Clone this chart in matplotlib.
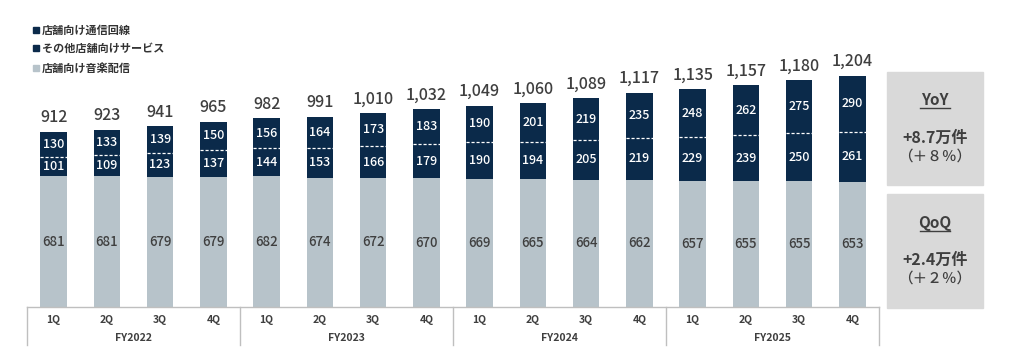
import matplotlib
matplotlib.use("Agg")
import matplotlib.pyplot as plt
from matplotlib.patches import Rectangle
from matplotlib.lines import Line2D

# ---- data ----
quarters = ["1Q", "2Q", "3Q", "4Q"] * 4
fiscal_years = ["FY2022", "FY2023", "FY2024", "FY2025"]
series_names = ["店舗向け通信回線", "その他店舗向けサービス", "店舗向け音楽配信"]
music = [681, 681, 679, 679, 682, 674, 672, 670, 669, 665, 664, 662, 657, 655, 655, 653]
other = [101, 109, 123, 137, 144, 153, 166, 179, 190, 194, 205, 219, 229, 239, 250, 261]
comm = [130, 133, 139, 150, 156, 164, 173, 183, 190, 201, 219, 235, 248, 262, 275, 290]
totals = [912, 923, 941, 965, 982, 991, 1010, 1032, 1049, 1060, 1089, 1117, 1135, 1157, 1180, 1204]
yoy_lines = ["YoY", "+8.7万件", "（＋８％）"]
qoq_lines = ["QoQ", "+2.4万件", "（＋２％）"]

plt.rcParams['font.family'] = ['Noto Sans CJK JP', 'DejaVu Sans']

DARK = "#0b2a4a"
LIGHT = "#b7c3ca"
TXT = "#3f3f3f"
GRID = "#bfbfbf"
BOX = "#d9d9d9"

W, H = 1024, 361
fig = plt.figure(figsize=(W / 100, H / 100), dpi=100)
fig.patch.set_facecolor("white")


def fx(px):
    return px / W


def fy(py):
    return 1 - py / H


ax = fig.add_axes([fx(27), fy(307), fx(879) - fx(27), fy(10) - fy(307)])
ax.set_xlim(-0.5, 15.5)
ax.set_ylim(0, 297 / 0.192)
ax.axis("off")

x = list(range(len(music)))
bw = 0.5
mid_base = [m for m in music]
top_base = [m + o for m, o in zip(music, other)]
ax.bar(x, music, bw, color=LIGHT, linewidth=0)
ax.bar(x, other, bw, bottom=mid_base, color=DARK, linewidth=0)
ax.bar(x, comm, bw, bottom=top_base, color=DARK, linewidth=0)

for i in x:
    ax.plot([i - bw / 2, i + bw / 2], [top_base[i], top_base[i]], color="white",
            lw=0.9, ls=(0, (2.5, 1.5)))
    ax.text(i, music[i] / 2, f"{music[i]}", ha="center", va="center",
            fontsize=9.5, color=TXT, fontweight="medium")
    ax.text(i, mid_base[i] + other[i] / 2, f"{other[i]}", ha="center", va="center",
            fontsize=9, color="white", fontweight="medium")
    ax.text(i, top_base[i] + comm[i] / 2, f"{comm[i]}", ha="center", va="center",
            fontsize=9, color="white", fontweight="medium")
    ax.annotate(f"{totals[i]:,}", (i, totals[i]), xytext=(0, 4),
                textcoords="offset points", ha="center", va="bottom",
                fontsize=11.5, color=TXT, fontweight="medium")

# ---- category table below ----
fig.add_artist(Line2D([fx(27), fx(879)], [fy(307), fy(307)], color=GRID, lw=1))
for px in [27, 240, 453, 666, 879]:
    fig.add_artist(Line2D([fx(px), fx(px)], [fy(307), fy(345)], color=GRID, lw=1))

for i, q in enumerate(quarters):
    xd = ax.transData.transform((i, 0))[0]
    fig.text(xd / W, fy(320), q, ha="center", va="center", fontsize=7.5,
             fontweight="bold", color=TXT)
for k, fyl in enumerate(fiscal_years):
    cx = (27 + 213 * k + 213 / 2)
    fig.text(fx(cx), fy(338), fyl, ha="center", va="center", fontsize=7.5,
             fontweight="bold", color=TXT)

# ---- legend ----
leg_colors = [DARK, DARK, LIGHT]
for k, (name, c) in enumerate(zip(series_names, leg_colors)):
    yy = [30, 48, 68][k]
    fig.add_artist(Rectangle((fx(33), fy(yy + 3)), fx(6), 6 / H, color=c,
                             transform=fig.transFigure))
    fig.text(fx(42), fy(yy), name, ha="left", va="center", fontsize=8,
             fontweight="bold", color="#333333")

# ---- YoY / QoQ boxes ----
for (y0, y1, lines, ys) in [(72, 185, yoy_lines, (100, 138, 157)),
                            (194, 308, qoq_lines, (223, 260, 279))]:
    fig.add_artist(Rectangle((fx(887), fy(y1)), fx(983) - fx(887), (y1 - y0) / H,
                             color=BOX, transform=fig.transFigure))
    cx = fx(935)
    fig.text(cx, fy(ys[0]), lines[0], ha="center", va="center", fontsize=11,
             fontweight="bold", color=TXT)
    fig.add_artist(Line2D([fx(920), fx(950)], [fy(ys[0] + 8), fy(ys[0] + 8)],
                          color=TXT, lw=1))
    fig.text(cx, fy(ys[1]), lines[1], ha="center", va="center", fontsize=11.5,
             fontweight="bold", color=TXT)
    fig.text(cx, fy(ys[2]), lines[2], ha="center", va="center", fontsize=10.5,
             color=TXT, fontweight="medium")

fig.savefig("out.png", dpi=100, facecolor="white")
